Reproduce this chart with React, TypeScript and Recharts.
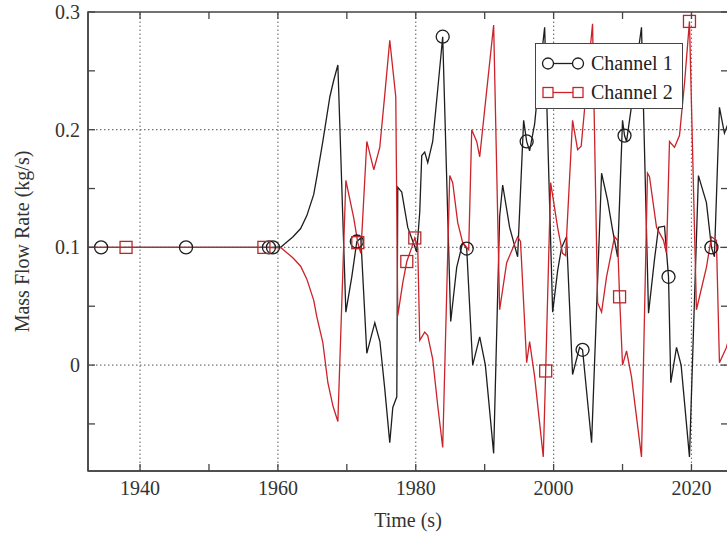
import { LineChart, Line, XAxis, YAxis, ReferenceLine, ReferenceArea, Legend } from 'recharts';

// channel 1 (black, circles)
const ch1Time = [
  1932.45, 1934.35, 1946.67, 1958.7, 1959.28, 1960.5, 1961.0, 1962.2, 1963.3, 1964.2,
  1965.2, 1965.65, 1966.52, 1967.54, 1968.1, 1968.7, 1969.86, 1970.72, 1971.45, 1972.03,
  1972.9, 1974.06, 1974.8, 1975.5, 1976.23, 1976.67, 1977.25, 1977.39, 1977.97, 1978.84,
  1980.14, 1980.58, 1980.87, 1981.3, 1981.74, 1982.46, 1983.2, 1983.91, 1985.07, 1985.94,
  1986.81, 1987.39, 1988.26, 1989.28, 1990.1, 1991.3, 1992.17, 1992.61, 1993.62, 1994.78,
  1995.65, 1996.09, 1996.52, 1997.25, 1998.0, 1998.7, 1999.86, 2000.58, 2001.16, 2001.88,
  2002.75, 2003.77, 2004.2, 2005.51, 2006.96, 2007.83, 2008.55, 2009.28, 2010.0, 2010.29,
  2010.58, 2011.3, 2012.0, 2012.75, 2013.77, 2014.64, 2015.22, 2016.09, 2016.67, 2017.0,
  2017.83, 2018.5, 2019.71, 2021.01, 2022.17, 2022.9, 2023.33, 2024.06, 2024.78, 2025.3,
];
const ch1Flow = [
  0.1, 0.1, 0.1, 0.1, 0.1, 0.1005, 0.103, 0.109, 0.116, 0.127,
  0.145, 0.16, 0.19, 0.228, 0.242, 0.255, 0.045, 0.075, 0.105, 0.108,
  0.01, 0.036, 0.02, -0.02, -0.066, -0.036, -0.027, 0.151, 0.147, 0.117,
  0.096, 0.13, 0.178, 0.181, 0.172, 0.19, 0.235, 0.279, 0.037, 0.083,
  0.104, 0.099, 0.0, 0.024, 0.0, -0.075, 0.126, 0.153, 0.117, 0.092,
  0.208, 0.19, 0.182, 0.205, 0.25, 0.287, 0.045, 0.08, 0.1, 0.109,
  -0.008, 0.015, 0.013, -0.066, 0.163, 0.14, 0.115, 0.092, 0.208, 0.195,
  0.19, 0.22, 0.255, 0.287, 0.044, 0.09, 0.117, 0.118, 0.075, -0.015,
  0.015, 0.0, -0.078, 0.161, 0.138, 0.1, 0.092, 0.219, 0.197, 0.205,
];
const ch1Marks = [1934.35, 1946.67, 1958.7, 1959.28, 1971.45, 1983.91, 1987.39, 1996.09, 2004.2, 2010.29, 2016.67, 2022.9];

// channel 2 (red, squares)
const ch2Time = [
  1932.45, 1937.97, 1957.97, 1960.5, 1961.0, 1962.2, 1963.3, 1964.2, 1965.2, 1965.65,
  1966.52, 1967.25, 1968.0, 1968.7, 1969.86, 1971.0, 1971.59, 1972.03, 1972.9, 1973.91,
  1974.78, 1975.51, 1976.23, 1977.1, 1977.39, 1978.12, 1978.7, 1979.42, 1979.86, 1980.29,
  1980.58, 1981.3, 1981.74, 1982.46, 1983.2, 1983.91, 1984.93, 1985.36, 1986.09, 1986.81,
  1987.68, 1988.12, 1988.84, 1989.28, 1990.0, 1991.3, 1992.17, 1993.19, 1994.78, 1995.2,
  1996.09, 1996.52, 1997.25, 1998.5, 1998.85, 1999.57, 2000.58, 2001.3, 2001.74, 2002.75,
  2003.48, 2004.0, 2005.0, 2005.65, 2006.38, 2006.96, 2007.68, 2008.84, 2009.28, 2009.57,
  2010.0, 2010.58, 2011.3, 2012.75, 2013.62, 2013.91, 2014.93, 2015.94, 2016.38, 2016.81,
  2017.54, 2018.26, 2019.0, 2019.71, 2020.72, 2022.17, 2022.9, 2023.62, 2024.06, 2025.07,
  2025.3,
];
const ch2Flow = [
  0.1, 0.1, 0.1, 0.0995, 0.097, 0.091, 0.084, 0.073, 0.055, 0.041,
  0.019, -0.015, -0.035, -0.048, 0.157, 0.125, 0.104, 0.095, 0.19, 0.166,
  0.185, 0.23, 0.276, 0.228, 0.042, 0.07, 0.088, 0.1, 0.108, 0.1,
  0.021, 0.028, 0.025, 0.005, -0.035, -0.07, 0.161, 0.155, 0.121, 0.104,
  0.098, 0.2, 0.19, 0.177, 0.217, 0.289, 0.047, 0.087, 0.109, 0.105,
  0.002, 0.02, -0.01, -0.078, -0.005, 0.155, 0.117, 0.095, 0.093, 0.208,
  0.183, 0.186, 0.25, 0.29, 0.053, 0.045, 0.075, 0.109, 0.106, 0.058,
  0.0, 0.012, -0.01, -0.078, 0.163, 0.16, 0.117, 0.106, 0.095, 0.19,
  0.185, 0.195, 0.24, 0.292, 0.047, 0.083, 0.109, 0.106, 0.002, 0.015,
  0.02,
];
const ch2Marks = [1937.97, 1957.97, 1971.59, 1978.7, 1979.86, 1998.85, 2009.57, 2019.71];

const xTicks = [1940, 1950, 1960, 1970, 1980, 1990, 2000, 2010, 2020];
const xLabels = [1940, 1960, 1980, 2000, 2020];
const yTicks = [-0.05, 0, 0.05, 0.1, 0.15, 0.2, 0.25, 0.3];
const yLabels = [0, 0.1, 0.2, 0.3];
const xDomain = [1932.45, 2025.3];
const yDomain = [-0.09, 0.3];

const SERIF = '"Liberation Serif", "Times New Roman", serif';
const BLACK = '#1e1e1e';
const RED = '#cc2229';
const FRAME = '#444';
const GRID = '#777';

// plot box in page pixels
const W = 745;
const H = 538;
const TOP = 12;
const LEFT = 88;
const BOTTOM = 471;
const RIGHT = 728;

const ch1Data = ch1Time.map((t, i) => ({ t, v: ch1Flow[i] }));
const ch2Data = ch2Time.map((t, i) => ({ t, v: ch2Flow[i] }));

const XTick = ({ x, payload }: any) => (
  <g>
    <line x1={x} x2={x} y1={BOTTOM} y2={BOTTOM - 7} stroke={FRAME} strokeWidth={1.3} />
    <line x1={x} x2={x} y1={TOP} y2={TOP + 7} stroke={FRAME} strokeWidth={1.3} />
    {xLabels.includes(payload.value) && (
      <text x={x} y={495} textAnchor="middle" fontFamily={SERIF} fontSize={20} fill="#333">
        {payload.value}
      </text>
    )}
  </g>
);

const YTick = ({ y, payload }: any) => {
  const v = payload.value;
  return (
    <g>
      <line x1={LEFT} x2={LEFT + 7} y1={y} y2={y} stroke={FRAME} strokeWidth={1.3} />
      <line x1={RIGHT} x2={RIGHT - 7} y1={y} y2={y} stroke={FRAME} strokeWidth={1.3} />
      {yLabels.some((l) => Math.abs(l - v) < 1e-9) && (
        <text x={80} y={y} dy={7} textAnchor="end" fontFamily={SERIF} fontSize={20} fill="#333">
          {String(Math.round(v * 10) / 10)}
        </text>
      )}
    </g>
  );
};

const circleDot = (props: any) => {
  const { cx, cy, payload, index } = props;
  if (!ch1Marks.includes(payload.t)) return <g key={`c-${index}`} />;
  return <circle key={`c-${index}`} cx={cx} cy={cy} r={6.5} fill="none" stroke={BLACK} strokeWidth={1.3} />;
};

const squareDot = (props: any) => {
  const { cx, cy, payload, index } = props;
  if (!ch2Marks.includes(payload.t)) return <g key={`s-${index}`} />;
  return <rect key={`s-${index}`} x={cx - 6} y={cy - 6} width={12} height={12} fill="none" stroke="#b32a2e" strokeWidth={1.3} />;
};

const legendRows = [
  { name: 'Channel 1', color: BLACK, shape: 'circle' },
  { name: 'Channel 2', color: RED, shape: 'square' },
];

const LegendBox = () => (
  <div
    style={{
      width: 148,
      height: 66,
      boxSizing: 'border-box',
      border: `1.3px solid ${FRAME}`,
      background: '#fff',
      padding: '5px 0 3px 0',
      fontFamily: SERIF,
      fontSize: 20,
      color: '#222',
    }}
  >
    {legendRows.map((r) => (
      <div key={r.name} style={{ display: 'flex', alignItems: 'center', height: 29 }}>
        <svg width={55} height={29}>
          <line x1={12} x2={42} y1={14.5} y2={14.5} stroke={r.color} strokeWidth={1.3} />
          {r.shape === 'circle' ? (
            <>
              <circle cx={12} cy={14.5} r={5.5} fill="#fff" stroke={r.color} strokeWidth={1.3} />
              <circle cx={42} cy={14.5} r={5.5} fill="#fff" stroke={r.color} strokeWidth={1.3} />
            </>
          ) : (
            <>
              <rect x={7} y={9.5} width={10} height={10} fill="#fff" stroke={r.color} strokeWidth={1.3} />
              <rect x={37} y={9.5} width={10} height={10} fill="#fff" stroke={r.color} strokeWidth={1.3} />
            </>
          )}
        </svg>
        <span>{r.name}</span>
      </div>
    ))}
  </div>
);

export default function App() {
  return (
    <div style={{ position: 'absolute', left: 0, top: 0, width: 727, height: 538, overflow: 'hidden', background: '#fff' }}>
      <LineChart width={W} height={H} margin={{ top: TOP, right: W - RIGHT, bottom: 0, left: 0 }}>
        <XAxis
          dataKey="t"
          type="number"
          domain={xDomain}
          ticks={xTicks}
          interval={0}
          allowDataOverflow
          tick={<XTick />}
          tickLine={false}
          axisLine={{ stroke: FRAME, strokeWidth: 1.5 }}
          height={H - BOTTOM}
          label={() => (
            <text x={(LEFT + RIGHT) / 2} y={527} textAnchor="middle" fontFamily={SERIF} fontSize={20} fill="#333">
              Time (s)
            </text>
          )}
        />
        <YAxis
          type="number"
          domain={yDomain}
          ticks={yTicks}
          interval={0}
          allowDataOverflow
          tick={<YTick />}
          tickLine={false}
          axisLine={{ stroke: FRAME, strokeWidth: 1.5 }}
          width={LEFT}
          label={() => (
            <text
              x={22}
              y={(TOP + BOTTOM) / 2}
              transform={`rotate(-90, 22, ${(TOP + BOTTOM) / 2})`}
              textAnchor="middle"
              dy={7}
              fontFamily={SERIF}
              fontSize={20}
              fill="#333"
            >
              Mass Flow Rate (kg/s)
            </text>
          )}
        />
        {xLabels.map((v) => (
          <ReferenceLine key={`gx-${v}`} x={v} stroke={GRID} strokeWidth={1.2} strokeDasharray="1.5 2.5" />
        ))}
        {yLabels.filter((v) => v < 0.3).map((v) => (
          <ReferenceLine key={`gy-${v}`} y={v} stroke={GRID} strokeWidth={1.2} strokeDasharray="1.5 2.5" />
        ))}
        <ReferenceArea x1={xDomain[0]} x2={xDomain[1]} y1={yDomain[0]} y2={yDomain[1]} fill="none" stroke={FRAME} strokeWidth={1.5} />
        <Line
          data={ch1Data}
          dataKey="v"
          type="linear"
          stroke={BLACK}
          strokeWidth={1.3}
          dot={circleDot}
          activeDot={false}
          isAnimationActive={false}
        />
        <Line
          data={ch2Data}
          dataKey="v"
          type="linear"
          stroke={RED}
          strokeWidth={1.3}
          dot={squareDot}
          activeDot={false}
          isAnimationActive={false}
        />
        <Legend
          layout="vertical"
          align="center"
          verticalAlign="middle"
          width={148}
          wrapperStyle={{ left: 535, top: 43, width: 148 }}
          content={<LegendBox />}
        />
      </LineChart>
    </div>
  );
}
